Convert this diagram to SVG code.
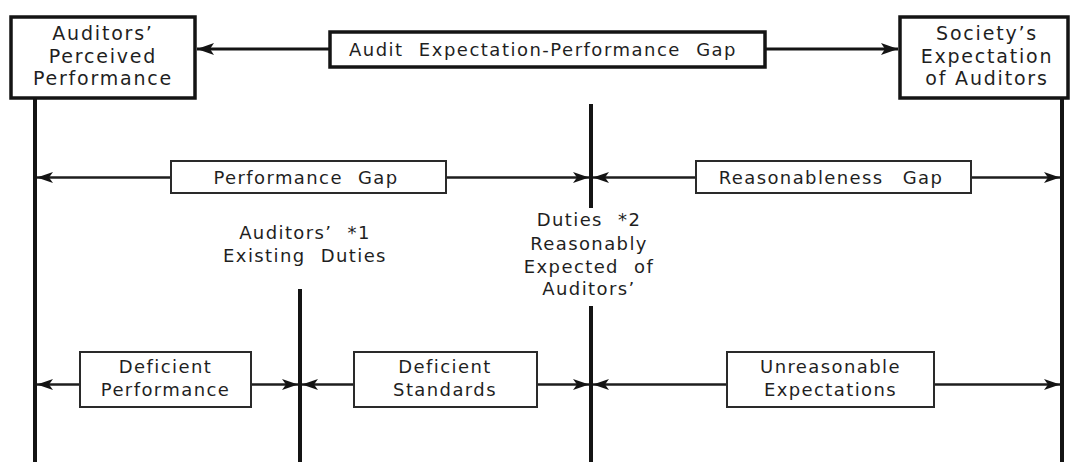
<svg xmlns="http://www.w3.org/2000/svg" width="1072" height="462" viewBox="0 0 1072 462">
  <style>
    text { font-family: "DejaVu Sans", "Open Sans", sans-serif; fill: #1f1f1f; text-anchor: middle; }
    .big { font-size: 19px; letter-spacing: 1.8px; }
    .mid { font-size: 18px; letter-spacing: 1.5px; word-spacing: 8px; }
    .lab { font-size: 18px; letter-spacing: 1.4px; word-spacing: 8px; }
    .box-heavy { fill: #fff; stroke: #141414; stroke-width: 3.5; }
    .box-thin { fill: #fff; stroke: #2a2a2a; stroke-width: 2; }
    .rule { stroke: #141414; stroke-width: 4; fill: none; }
    .arrow-top { stroke: #141414; stroke-width: 3; fill: none; marker-end: url(#head-lg); }
    .arrow { stroke: #1e1e1e; stroke-width: 2.5; fill: none; marker-end: url(#head); }
  </style>
  <defs>
    <marker id="head" markerUnits="userSpaceOnUse" viewBox="0 0 16 12" refX="16" refY="6" markerWidth="16" markerHeight="12" orient="auto">
      <path d="M0,0.5 L16,6 L0,11.5 L4,6 z" fill="#141414"/>
    </marker>
    <marker id="head-lg" markerUnits="userSpaceOnUse" viewBox="0 0 17 13" refX="17" refY="6.5" markerWidth="17" markerHeight="13" orient="auto">
      <path d="M0,0.5 L17,6.5 L0,12.5 L4,6.5 z" fill="#141414"/>
    </marker>
  </defs>

  <rect width="1072" height="462" fill="#fff"/>

  <!-- vertical boundary rules -->
  <g id="rules">
    <line class="rule" x1="35" y1="98" x2="35" y2="462"/>
    <line class="rule" x1="1062" y1="98" x2="1062" y2="462"/>
    <line class="rule" x1="591" y1="104" x2="591" y2="208"/>
    <line class="rule" x1="591" y1="306" x2="591" y2="462"/>
    <line class="rule" x1="300" y1="289" x2="300" y2="462"/>
  </g>

  <!-- connectors -->
  <g id="connectors">
    <line class="arrow-top" x1="330" y1="49" x2="197" y2="49"/>
    <line class="arrow-top" x1="765" y1="49" x2="898" y2="49"/>

    <line class="arrow" x1="171" y1="177.5" x2="37" y2="177.5"/>
    <line class="arrow" x1="446" y1="177.5" x2="589" y2="177.5"/>
    <line class="arrow" x1="696" y1="177.5" x2="593" y2="177.5"/>
    <line class="arrow" x1="971" y1="177.5" x2="1060" y2="177.5"/>

    <line class="arrow" x1="80" y1="384.5" x2="37" y2="384.5"/>
    <line class="arrow" x1="251" y1="384.5" x2="298" y2="384.5"/>
    <line class="arrow" x1="354" y1="384.5" x2="302" y2="384.5"/>
    <line class="arrow" x1="537" y1="384.5" x2="589" y2="384.5"/>
    <line class="arrow" x1="727" y1="384.5" x2="593" y2="384.5"/>
    <line class="arrow" x1="934" y1="384.5" x2="1060" y2="384.5"/>
  </g>

  <g id="auditors-perceived-performance">
    <rect class="box-heavy" x="11" y="17" width="184" height="81"/>
    <text class="big" x="103" y="40">Auditors’</text>
    <text class="big" x="103" y="62.5">Perceived</text>
    <text class="big" x="103" y="85">Performance</text>
  </g>

  <g id="audit-gap">
    <rect class="box-heavy" x="330" y="32" width="435" height="35" stroke-width="3"/>
    <text class="mid" x="543" y="55.5">Audit Expectation-Performance Gap</text>
  </g>

  <g id="society-expectation">
    <rect class="box-heavy" x="900" y="17" width="168" height="81"/>
    <text class="big" x="987" y="40">Society’s</text>
    <text class="big" x="987" y="62.5">Expectation</text>
    <text class="big" x="987" y="85">of Auditors</text>
  </g>

  <g id="performance-gap">
    <rect class="box-thin" x="171" y="161" width="275" height="32"/>
    <text class="lab" x="306" y="184">Performance Gap</text>
  </g>

  <g id="reasonableness-gap">
    <rect class="box-thin" x="696" y="161" width="275" height="32"/>
    <text class="lab" x="831" y="184" style="word-spacing:12px">Reasonableness Gap</text>
  </g>

  <g id="existing-duties">
    <text class="lab" x="305" y="239">Auditors’ *1</text>
    <text class="lab" x="305" y="262">Existing Duties</text>
  </g>

  <g id="reasonable-duties">
    <text class="lab" x="589" y="226">Duties *2</text>
    <text class="lab" x="589" y="249.5">Reasonably</text>
    <text class="lab" x="589" y="273">Expected of</text>
    <text class="lab" x="589" y="295">Auditors’</text>
  </g>

  <g id="deficient-performance">
    <rect class="box-thin" x="80" y="352" width="171" height="55"/>
    <text class="lab" x="165.5" y="373">Deficient</text>
    <text class="lab" x="165.5" y="396">Performance</text>
  </g>

  <g id="deficient-standards">
    <rect class="box-thin" x="354" y="352" width="183" height="55"/>
    <text class="lab" x="445" y="373">Deficient</text>
    <text class="lab" x="445" y="396">Standards</text>
  </g>

  <g id="unreasonable-expectations">
    <rect class="box-thin" x="727" y="352" width="207" height="55"/>
    <text class="lab" x="830.5" y="373">Unreasonable</text>
    <text class="lab" x="830.5" y="396">Expectations</text>
  </g>
</svg>
